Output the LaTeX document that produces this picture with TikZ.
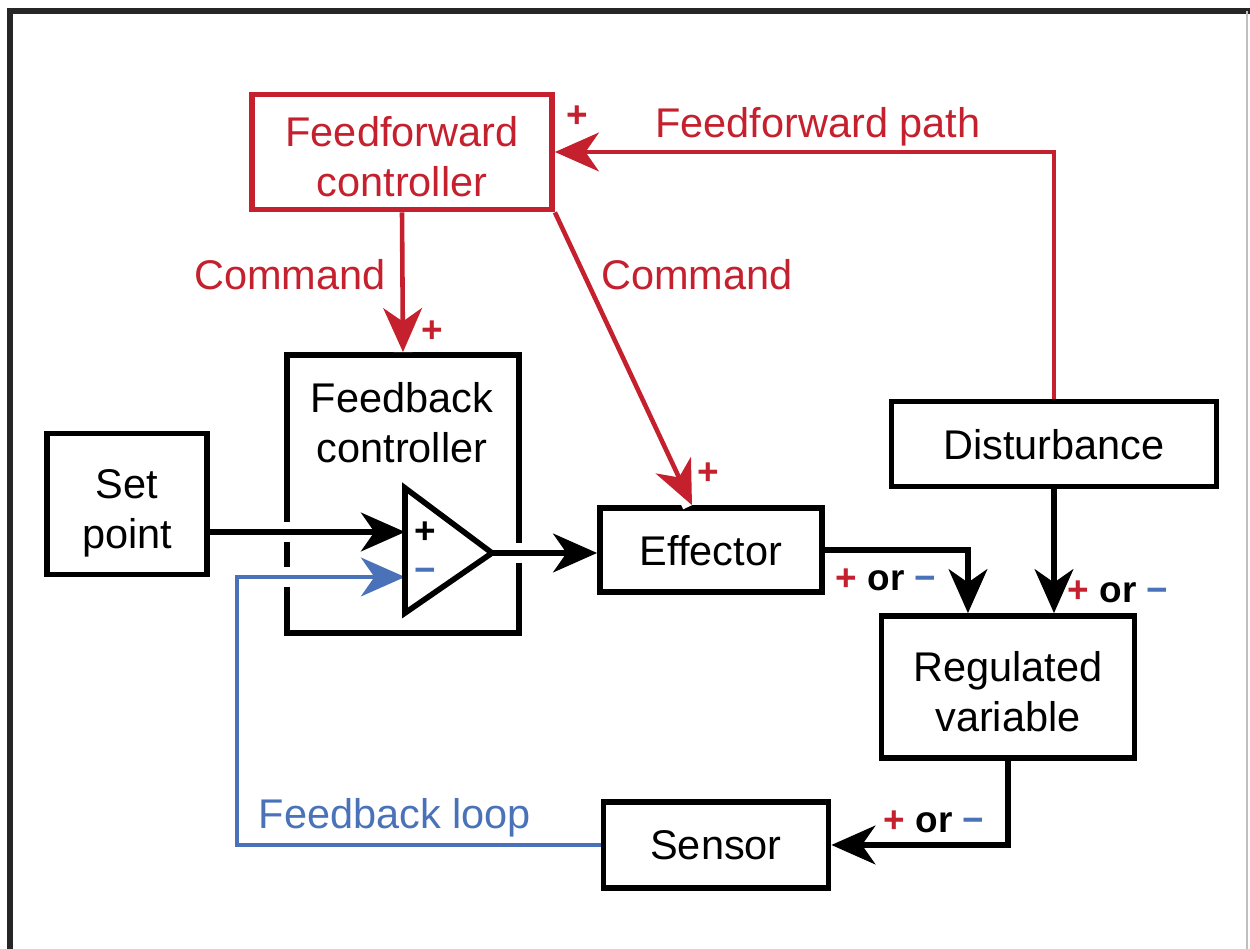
\documentclass[tikz,border=0pt]{standalone}
\usepackage{fontspec}
\setmainfont{Liberation Sans}
\usetikzlibrary{arrows.meta}
\definecolor{rojo}{RGB}{196,32,45}
\definecolor{azul}{RGB}{74,114,184}

\begin{document}
\begin{tikzpicture}[x=0.01cm, y=-0.01cm,
    caja/.style={draw, line width=1.6pt, align=center, inner sep=0pt, text depth=0pt,
        font=\fontsize{11.8}{14.2}\selectfont},
    dos/.style={text height=25.3pt},
    texto/.style={align=center, inner sep=0pt, font=\fontsize{11.8}{14.2}\selectfont},
    signo/.style={inner sep=0pt, font=\bfseries\fontsize{10.5}{12}\selectfont},
    flecha/.style={line width=1.5pt, -{Stealth[length=12.5pt, width=11pt, inset=3.8pt]},
        preaction={draw=white, line width=5.5pt, -}}]
        % Marco
        \useasboundingbox (0,0) rectangle (1250,949);
        \draw[line width=1.6pt, black!85] (10,949) -- (10,11) -- (1250,11);
        \draw[line width=0.4pt, black!25] (1247,11) -- (1247,949);
        % Cajas
        \node[caja, dos, rojo, minimum width=3.00cm, minimum height=1.15cm] (ffc) at (402,152) {Feedforward\\controller};
        \node[caja, minimum width=2.32cm, minimum height=2.78cm] (fbc) at (403,494) {};
        \node[texto] (fbtxt) at (402,423) {Feedback\\controller};
        \node[caja, dos, minimum width=1.60cm, minimum height=1.41cm] (sp) at (127,504) {Set\\point};
        \node[caja, minimum width=2.22cm, minimum height=0.84cm] (eff) at (711,550) {Effector};
        \node[caja, minimum width=3.25cm, minimum height=0.85cm] (dist) at (1054,444) {Disturbance};
        \node[caja, dos, minimum width=2.53cm, minimum height=1.42cm] (reg) at (1008,687) {Regulated\\variable};
        \node[caja, minimum width=2.25cm, minimum height=0.86cm] (sens) at (716,845) {Sensor};
        % Comparador
        \coordinate (opplus) at (405,532);
        \coordinate (opminus) at (405,577);
        \coordinate (opout) at (492,553);
        \coordinate (lazo) at (237,845);
        % Flechas negras
        \draw[flecha] (sp.east |- opplus) -- (opplus);
        \draw[flecha] (opout) -- (eff.west |- opout);
        \draw[flecha] (eff.east) -| ([xshift=-0.40cm]reg.north);
        \draw[flecha] (dist.south) -- (dist.south |- reg.north);
        \draw[flecha] (reg.south) |- (sens.east);
        % Lazo de realimentacion
        \draw[flecha, azul, line width=1.3pt] (sens.west) -- (lazo) |- (opminus);
        \node[texto, azul, anchor=south west] (fbl) at (258,838) {Feedback loop};
        % Camino de prealimentacion
        \draw[flecha, rojo, line width=1.3pt] (dist.north) |- (ffc.east);
        \draw[flecha, rojo, line width=1.3pt] (ffc.south) -- (fbc.north);
        \draw[flecha, rojo, line width=1.3pt] (ffc.south east) -- ([xshift=-0.19cm]eff.north);
        \node[texto, rojo] (ffp) at (818,127) {Feedforward path};
        \node[texto, rojo] (cmd1) at (290,275) {Command};
        \node[texto, rojo] (cmd2) at (697,275) {Command};
        % Triangulo
        \draw[line width=1.6pt, fill=white] (405,488) -- (opout) -- (405,613) -- cycle;
        \node[signo] (tplus) at (425,533) {+};
        \node[signo, azul] (tminus) at (425,575) {−};
        % Signos
        \node[signo, rojo] (s1) at (577,117) {+};
        \node[signo, rojo] (s2) at (432,332) {+};
        \node[signo, rojo] (s3) at (708,474) {+};
        \node[signo] (s4) at (886,580) {{\color{rojo}+} or {\color{azul}−}};
        \node[signo] (s5) at (1118,592) {{\color{rojo}+} or {\color{azul}−}};
        \node[signo] (s6) at (934,822) {{\color{rojo}+} or {\color{azul}−}};
    \end{tikzpicture}
\end{document}
